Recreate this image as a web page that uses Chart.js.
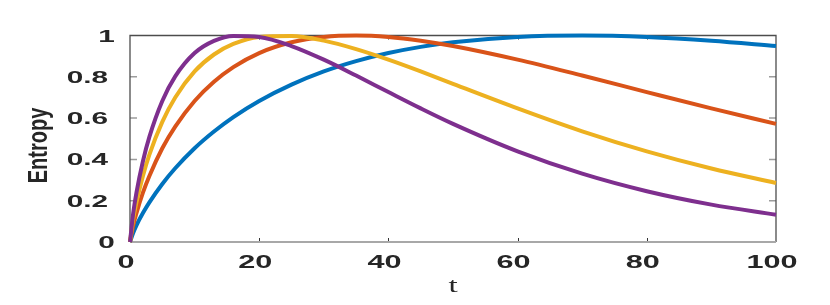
<!DOCTYPE html>
<html>
<head>
<meta charset="utf-8">
<script src="https://cdn.jsdelivr.net/npm/chart.js@4"></script>
<style>
  html, body { margin: 0; padding: 0; background: #fff; }
  #wrap { width: 830px; height: 305px; }
</style>
</head>
<body>
<div id="wrap"><canvas id="entropyChart" width="830" height="305"></canvas></div>
<script>
// Values (entropy vs t, four curves).
const tValues = [0, 0.5, 1, 2, 3, 5, 7, 10, 13, 16, 20, 25, 30, 35, 40, 45, 50, 60, 70, 80, 90, 100];
const blueEntropy   = [0, 0.045, 0.081, 0.140, 0.192, 0.281, 0.357, 0.454, 0.535, 0.605, 0.683, 0.762, 0.826, 0.876, 0.915, 0.945, 0.967, 0.993, 1.000, 0.993, 0.975, 0.949];
const orangeEntropy = [0, 0.081, 0.140, 0.239, 0.320, 0.454, 0.559, 0.683, 0.776, 0.847, 0.915, 0.967, 0.993, 1.000, 0.993, 0.975, 0.949, 0.883, 0.806, 0.726, 0.647, 0.572];
const yellowEntropy = [0, 0.112, 0.192, 0.320, 0.423, 0.582, 0.700, 0.826, 0.908, 0.959, 0.993, 0.998, 0.975, 0.934, 0.883, 0.826, 0.766, 0.647, 0.536, 0.439, 0.356, 0.286];
const purpleEntropy = [0, 0.140, 0.239, 0.391, 0.509, 0.683, 0.802, 0.915, 0.974, 0.998, 0.993, 0.949, 0.883, 0.806, 0.726, 0.647, 0.572, 0.439, 0.331, 0.246, 0.181, 0.132];

const xTicks = [0, 20, 40, 60, 80, 100];
const xTickLabels = ['0', '20', '40', '60', '80', '100'];
const yTicks = [0, 0.2, 0.4, 0.6, 0.8, 1];
const yTickLabels = ['0', '0.2', '0.4', '0.6', '0.8', '1'];
const xTitle = 't';
const yTitle = 'Entropy';

const textColor = '#262626';

function toPoints(values) {
  return tValues.map((t, i) => ({ x: t, y: values[i] }));
}

function stretchedText(ctx, str, x, y, sx, align) {
  ctx.save();
  ctx.translate(x, y);
  ctx.scale(sx, 1);
  ctx.textAlign = align;
  ctx.fillText(str, 0, 0);
  ctx.restore();
}

// MATLAB-like box, inward ticks and wide bold labels
const matlabAxes = {
  id: 'matlabAxes',
  beforeDatasetsDraw(chart) {
    const { ctx, chartArea: a, scales: { x, y } } = chart;
    ctx.save();

    ctx.strokeStyle = '#9c9c9c';
    ctx.lineWidth = 1.5;
    yTicks.slice(1, -1).forEach((v) => {
      const py = y.getPixelForValue(v);
      ctx.beginPath();
      ctx.moveTo(a.left, py); ctx.lineTo(a.left + 7, py);
      ctx.moveTo(a.right, py); ctx.lineTo(a.right - 7, py);
      ctx.stroke();
    });

    ctx.strokeStyle = '#333';
    ctx.lineWidth = 1;
    xTicks.slice(1, -1).forEach((v) => {
      const px = Math.round(x.getPixelForValue(v)) + 0.5;
      ctx.beginPath();
      ctx.moveTo(px, a.bottom); ctx.lineTo(px, a.bottom - 4);
      ctx.moveTo(px, a.top); ctx.lineTo(px, a.top + 4);
      ctx.stroke();
    });

    ctx.strokeStyle = '#4d4d4d';
    ctx.lineWidth = 1.3;
    ctx.beginPath();
    ctx.moveTo(a.left, a.bottom); ctx.lineTo(a.left, a.top);
    ctx.lineTo(a.right, a.top); ctx.lineTo(a.right, a.bottom);
    ctx.stroke();

    ctx.strokeStyle = '#a8a8a8';
    ctx.lineWidth = 2;
    ctx.beginPath();
    ctx.moveTo(a.left, a.bottom); ctx.lineTo(a.right, a.bottom);
    ctx.stroke();
    ctx.restore();
  },
  afterDraw(chart) {
    const { ctx, chartArea: a, scales: { x, y } } = chart;
    ctx.save();
    ctx.fillStyle = textColor;
    ctx.textBaseline = 'alphabetic';

    ctx.font = 'bold 17px "Liberation Sans", Arial, sans-serif';
    yTicks.forEach((v, i) => {
      const label = yTickLabels[i];
      const py = y.getPixelForValue(v) + 6;
      if (label.includes('.')) stretchedText(ctx, label, 108, py, 1.75, 'right');
      else stretchedText(ctx, label, 106.5, py, 1.75, 'center');
    });

    ctx.font = 'bold 18px "Liberation Sans", Arial, sans-serif';
    xTicks.forEach((v, i) => {
      stretchedText(ctx, xTickLabels[i], x.getPixelForValue(v) - 4, 268, 1.7, 'center');
    });

    ctx.font = '22px "Liberation Serif", serif';
    stretchedText(ctx, xTitle, (a.left + a.right) / 2, 292, 1.5, 'center');

    ctx.font = 'bold 20px "Liberation Sans", Arial, sans-serif';
    ctx.translate(39, 145.5);
    ctx.scale(1.4, 1);
    ctx.rotate(-Math.PI / 2);
    ctx.textAlign = 'center';
    ctx.textBaseline = 'middle';
    ctx.fillText(yTitle, 0, 0);
    ctx.restore();
  },
};

const lineStyle = {
  borderWidth: 4,
  pointRadius: 0,
  fill: false,
  clip: false,
  cubicInterpolationMode: 'monotone',
  borderCapStyle: 'butt',
};

new Chart(document.getElementById('entropyChart'), {
  type: 'line',
  data: {
    datasets: [
      { ...lineStyle, label: 'blue', data: toPoints(blueEntropy), borderColor: '#0072BD', order: 3 },
      { ...lineStyle, label: 'orange', data: toPoints(orangeEntropy), borderColor: '#D95319', order: 2 },
      { ...lineStyle, label: 'yellow', data: toPoints(yellowEntropy), borderColor: '#EDB120', order: 1 },
      { ...lineStyle, label: 'purple', data: toPoints(purpleEntropy), borderColor: '#7E2F8E', order: 0 },
    ],
  },
  options: {
    responsive: false,
    animation: false,
    layout: { padding: { left: 0, right: 54, top: 35.5, bottom: 0 } },
    plugins: { legend: { display: false }, tooltip: { enabled: false } },
    scales: {
      x: {
        type: 'linear', min: 0, max: 100,
        ticks: { display: false }, grid: { display: false }, border: { display: false },
        afterFit: (scale) => { scale.height = 63; },
      },
      y: {
        min: 0, max: 1,
        ticks: { display: false }, grid: { display: false }, border: { display: false },
        afterFit: (scale) => { scale.width = 130; },
      },
    },
  },
  plugins: [matlabAxes],
});
</script>
</body>
</html>
